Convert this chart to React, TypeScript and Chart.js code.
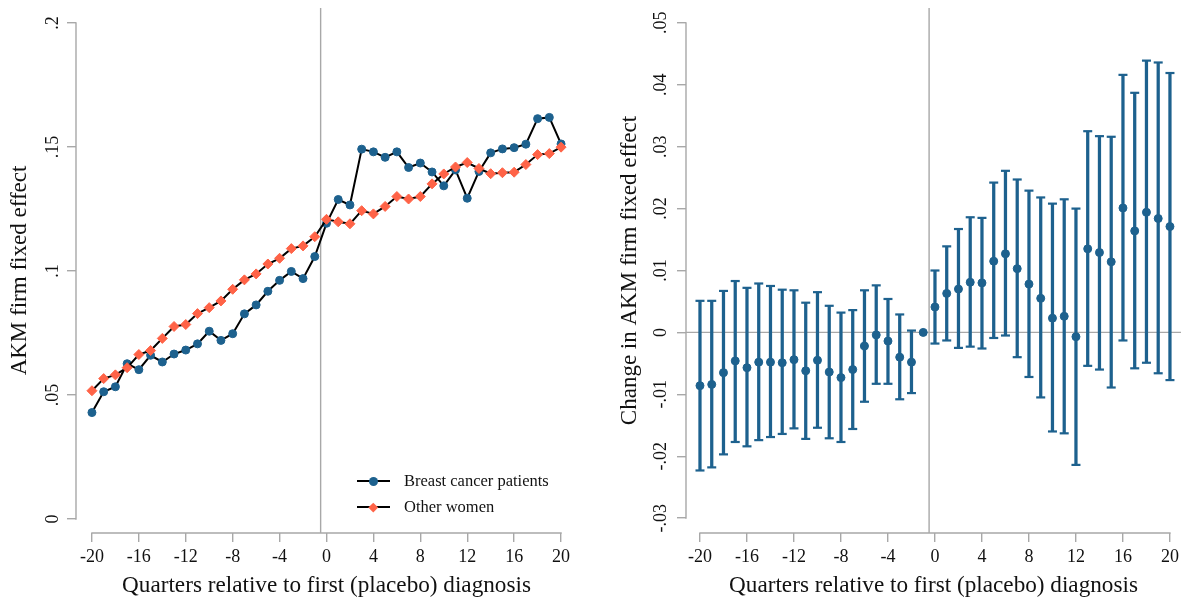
import { useEffect, useRef } from "react";
import { Chart, registerables, type ChartConfiguration, type Plugin } from "chart.js";

Chart.register(...registerables);

const quarters = [
  -20, -19, -18, -17, -16, -15, -14, -13, -12, -11, -10, -9, -8, -7, -6, -5, -4, -3, -2, -1, 0, 1, 2,
  3, 4, 5, 6, 7, 8, 9, 10, 11, 12, 13, 14, 15, 16, 17, 18, 19, 20,
];

// left panel: AKM firm fixed effect levels
const breastCancerPatients = [
  0.0429, 0.0513, 0.0533, 0.0626, 0.0602, 0.066, 0.0633, 0.0665, 0.0681, 0.0706, 0.0757, 0.072,
  0.0747, 0.0827, 0.0863, 0.0918, 0.0962, 0.0998, 0.0969, 0.1058, 0.1192, 0.1288, 0.1266, 0.1491,
  0.148, 0.1458, 0.148, 0.1417, 0.1435, 0.1399, 0.1343, 0.1407, 0.1293, 0.1401, 0.1476, 0.1492,
  0.1497, 0.1511, 0.1614, 0.1619, 0.1512,
];
const otherWomen = [
  0.0517, 0.0566, 0.0581, 0.061, 0.0663, 0.0679, 0.0728, 0.0776, 0.0784, 0.0828, 0.0852, 0.0879,
  0.0926, 0.0964, 0.0988, 0.1028, 0.1051, 0.109, 0.1101, 0.1138, 0.1208, 0.1198, 0.119, 0.1243,
  0.123, 0.126, 0.13, 0.129, 0.13, 0.1351, 0.1391, 0.1419, 0.1437, 0.1413, 0.1392, 0.1396, 0.1398,
  0.1429, 0.1469, 0.1473, 0.1499,
];

// right panel: change with confidence interval (quarter -1 is the reference)
const changeEstimate = [
  -0.0086, -0.0084, -0.0065, -0.0046, -0.0057, -0.0048, -0.0048, -0.0049, -0.0044, -0.0062, -0.0045,
  -0.0064, -0.0073, -0.006, -0.0022, -0.0004, -0.0014, -0.004, -0.0048, 0, 0.0041, 0.0063, 0.007,
  0.0081, 0.008, 0.0115, 0.0127, 0.0103, 0.0078, 0.0055, 0.0023, 0.0026, -0.0007, 0.0135, 0.0129,
  0.0114, 0.0201, 0.0164, 0.0194, 0.0184, 0.0171,
];
const changeUpper = [
  0.0051, 0.0051, 0.0067, 0.0083, 0.0072, 0.0079, 0.0075, 0.0069, 0.0068, 0.0048, 0.0065, 0.0043,
  0.0032, 0.0036, 0.0068, 0.0076, 0.0054, 0.0029, 0.0003, null, 0.01, 0.0139, 0.0167, 0.0186,
  0.0185, 0.0242, 0.0261, 0.0247, 0.0229, 0.0218, 0.0208, 0.0215, 0.02, 0.0325, 0.0317, 0.0316,
  0.0416, 0.0387, 0.0439, 0.0436, 0.0419,
];
const changeLower = [
  -0.0223, -0.0218, -0.0197, -0.0177, -0.0184, -0.0174, -0.0169, -0.0164, -0.0155, -0.0172, -0.0154,
  -0.0171, -0.0177, -0.0156, -0.0112, -0.0083, -0.0083, -0.0108, -0.0098, null, -0.0018, -0.0013,
  -0.0025, -0.0023, -0.0026, -0.0009, -0.0005, -0.004, -0.0072, -0.0105, -0.016, -0.0163, -0.0214,
  -0.0054, -0.006, -0.0089, -0.0013, -0.0058, -0.0049, -0.0066, -0.0077,
];

const xTicks = [-20, -16, -12, -8, -4, 0, 4, 8, 12, 16, 20];
const xTickLabels = ["-20", "-16", "-12", "-8", "-4", "0", "4", "8", "12", "16", "20"];
const levelTicks = [0, 0.05, 0.1, 0.15, 0.2];
const levelTickLabels = ["0", ".05", ".1", ".15", ".2"];
const changeTicks = [-0.03, -0.02, -0.01, 0, 0.01, 0.02, 0.03, 0.04, 0.05];
const changeTickLabels = ["-.03", "-.02", "-.01", "0", ".01", ".02", ".03", ".04", ".05"];

const BLUE = "#1d618e";
const ORANGE = "#ff6347";
const AXIS_GRAY = "#a8a8a8";
const TEXT = "#111111";
const FONT = "'Liberation Serif', 'Times New Roman', serif";

// Stata-style axes: lines only over the tick range, plus the reference lines
const stataFrame: Plugin = {
  id: "stataFrame",
  beforeDatasetsDraw(chart, _args, opts: { zeroLine?: boolean }) {
    const { ctx, chartArea } = chart;
    const x = chart.scales.x;
    const y = chart.scales.y;
    ctx.save();
    ctx.strokeStyle = AXIS_GRAY;
    ctx.lineWidth = 1.4;

    const xr = x.getPixelForValue(-0.5);
    ctx.beginPath();
    ctx.moveTo(xr, chartArea.top);
    ctx.lineTo(xr, chartArea.bottom);
    if (opts.zeroLine) {
      const y0 = y.getPixelForValue(0);
      ctx.moveTo(chartArea.left, y0);
      ctx.lineTo(chartArea.right, y0);
    }
    const xt = x.ticks;
    const yt = y.ticks;
    ctx.moveTo(x.getPixelForValue(xt[0].value) - 0.7, chartArea.bottom);
    ctx.lineTo(x.getPixelForValue(xt[xt.length - 1].value) + 0.7, chartArea.bottom);
    ctx.moveTo(chartArea.left, y.getPixelForValue(yt[0].value) + 0.7);
    ctx.lineTo(chartArea.left, y.getPixelForValue(yt[yt.length - 1].value) - 0.7);
    ctx.stroke();
    ctx.restore();
  },
};

function xScale(min: number, max: number) {
  return {
    type: "linear" as const,
    min,
    max,
    offset: false,
    afterBuildTicks(scale: any) {
      scale.ticks = xTicks.map((value) => ({ value }));
    },
    afterFit(scale: any) {
      scale.height = 70;
      scale.paddingLeft = 0;
      scale.paddingRight = 0;
    },
    border: { display: false },
    grid: {
      offset: false,
      drawOnChartArea: false,
      drawTicks: true,
      tickLength: 9,
      color: AXIS_GRAY,
      lineWidth: 1.4,
    },
    ticks: {
      color: TEXT,
      font: { family: FONT, size: 18 },
      padding: 4,
      maxRotation: 0,
      autoSkip: false,
      callback: (_v: unknown, i: number) => xTickLabels[i],
    },
    title: {
      display: true,
      text: "Quarters relative to first (placebo) diagnosis",
      color: TEXT,
      font: { family: FONT, size: 23.2 },
      padding: { top: 0, bottom: 3 },
    },
  };
}

function yScale(
  min: number,
  max: number,
  ticks: number[],
  labels: string[],
  title: string,
  labelPadding: number,
) {
  return {
    type: "linear" as const,
    min,
    max,
    afterBuildTicks(scale: any) {
      scale.ticks = ticks.map((value) => ({ value }));
    },
    afterFit(scale: any) {
      scale.width = 76;
      scale.paddingTop = 0;
      scale.paddingBottom = 0;
    },
    border: { display: false },
    grid: {
      drawOnChartArea: false,
      drawTicks: true,
      tickLength: 9,
      color: AXIS_GRAY,
      lineWidth: 1.4,
    },
    ticks: {
      color: TEXT,
      font: { family: FONT, size: 18 },
      padding: labelPadding,
      minRotation: 90,
      maxRotation: 90,
      crossAlign: "center" as const,
      autoSkip: false,
      callback: (_v: unknown, i: number) => labels[i],
    },
    title: {
      display: true,
      text: title,
      color: TEXT,
      font: { family: FONT, size: 23 },
      padding: { top: 6, bottom: 0 },
    },
  };
}

function levelsConfig(): ChartConfiguration {
  return {
    type: "line",
    data: {
      labels: quarters,
      datasets: [
        {
          label: "Breast cancer patients",
          data: quarters.map((q, i) => ({ x: q, y: breastCancerPatients[i] })),
          borderColor: "#000000",
          borderWidth: 2,
          pointStyle: "circle",
          pointRadius: 4,
          pointBorderWidth: 1,
          pointBackgroundColor: BLUE,
          pointBorderColor: BLUE,
          tension: 0,
          order: 1,
        },
        {
          label: "Other women",
          data: quarters.map((q, i) => ({ x: q, y: otherWomen[i] })),
          borderColor: "#000000",
          borderWidth: 2,
          pointStyle: "rectRot",
          pointRadius: 5,
          pointBorderWidth: 1,
          pointBackgroundColor: ORANGE,
          pointBorderColor: ORANGE,
          tension: 0,
          order: 0,
        },
      ],
    },
    options: {
      animation: false,
      responsive: true,
      maintainAspectRatio: false,
      layout: { autoPadding: false, padding: { top: 8, right: 13, bottom: 0, left: 0 } },
      plugins: {
        legend: { display: false },
        tooltip: { enabled: false },
        stataFrame: { zeroLine: false },
      } as any,
      scales: {
        x: xScale(-21.36, 21.36),
        y: yScale(-0.00565, 0.206, levelTicks, levelTickLabels, "AKM firm fixed effect", 2.5),
      } as any,
    },
    plugins: [stataFrame],
  };
}

function changeConfig(): ChartConfiguration {
  const withCi = quarters.map((q, i) => i).filter((i) => changeUpper[i] !== null);
  return {
    type: "bar",
    data: {
      datasets: [
        {
          type: "scatter",
          label: "Estimate",
          data: quarters.map((q, i) => ({ x: q, y: changeEstimate[i] })),
          pointStyle: "circle",
          pointRadius: 4,
          pointBorderWidth: 1,
          pointBackgroundColor: BLUE,
          pointBorderColor: BLUE,
          order: 0,
        },
        {
          type: "scatter",
          label: "Caps",
          data: withCi.flatMap((i) => [
            { x: quarters[i], y: changeUpper[i] as number },
            { x: quarters[i], y: changeLower[i] as number },
          ]),
          pointStyle: "line",
          pointRadius: 4.5,
          pointBorderWidth: 2.2,
          pointBorderColor: BLUE,
          pointBackgroundColor: BLUE,
          order: 1,
        },
        {
          type: "bar",
          label: "95% CI",
          data: withCi.map((i) => ({
            x: quarters[i],
            y: [changeLower[i] as number, changeUpper[i] as number],
          })) as any,
          backgroundColor: BLUE,
          borderWidth: 0,
          barThickness: 2.6,
          grouped: false,
          order: 2,
        },
      ],
    },
    options: {
      animation: false,
      responsive: true,
      maintainAspectRatio: false,
      layout: { autoPadding: false, padding: { top: 8, right: 0, bottom: 0, left: 0 } },
      plugins: {
        legend: { display: false },
        tooltip: { enabled: false },
        stataFrame: { zeroLine: true },
      } as any,
      scales: {
        x: xScale(-21.19, 20.94),
        y: yScale(
          -0.0324,
          0.0524,
          changeTicks,
          changeTickLabels,
          "Change in AKM firm fixed effect",
          1,
        ),
      } as any,
    },
    plugins: [stataFrame],
  };
}

function ChartCanvas({ makeConfig }: { makeConfig: () => ChartConfiguration }) {
  const canvasRef = useRef<HTMLCanvasElement>(null);

  useEffect(() => {
    if (!canvasRef.current) {
      return;
    }
    const chart = new Chart(canvasRef.current, makeConfig());
    return () => {
      chart.destroy();
    };
  }, [makeConfig]);

  return <canvas ref={canvasRef} />;
}

function LegendRow({ top, label, marker }: { top: number; label: string; marker: "circle" | "diamond" }) {
  return (
    <div
      style={{
        position: "absolute",
        left: 357,
        top: top - 11,
        height: 22,
        display: "flex",
        alignItems: "center",
        whiteSpace: "nowrap",
      }}
    >
      <div style={{ position: "relative", width: 33, height: 22 }}>
        <div
          style={{ position: "absolute", left: 0, top: 10, width: 33, height: 2, background: "#000" }}
        />
        {marker === "circle" ? (
          <div
            style={{
              position: "absolute",
              left: 12,
              top: 6.5,
              width: 9,
              height: 9,
              borderRadius: "50%",
              background: BLUE,
            }}
          />
        ) : (
          <div
            style={{
              position: "absolute",
              left: 13,
              top: 8,
              width: 6.5,
              height: 6.5,
              transform: "rotate(45deg)",
              background: ORANGE,
            }}
          />
        )}
      </div>
      <span
        style={{ marginLeft: 14, fontFamily: FONT, fontSize: 16.5, color: TEXT, lineHeight: "22px" }}
      >
        {label}
      </span>
    </div>
  );
}

export default function App() {
  return (
    <div
      style={{
        position: "fixed",
        left: 0,
        top: 0,
        width: 1181,
        height: 603,
        background: "#ffffff",
        overflow: "hidden",
      }}
    >
      <div style={{ position: "absolute", left: 0, top: 0, width: 590, height: 603 }}>
        <ChartCanvas makeConfig={levelsConfig} />
        <LegendRow top={481} label="Breast cancer patients" marker="circle" />
        <LegendRow top={507} label="Other women" marker="diamond" />
      </div>
      <div style={{ position: "absolute", left: 610, top: 0, width: 571, height: 603 }}>
        <ChartCanvas makeConfig={changeConfig} />
      </div>
    </div>
  );
}
